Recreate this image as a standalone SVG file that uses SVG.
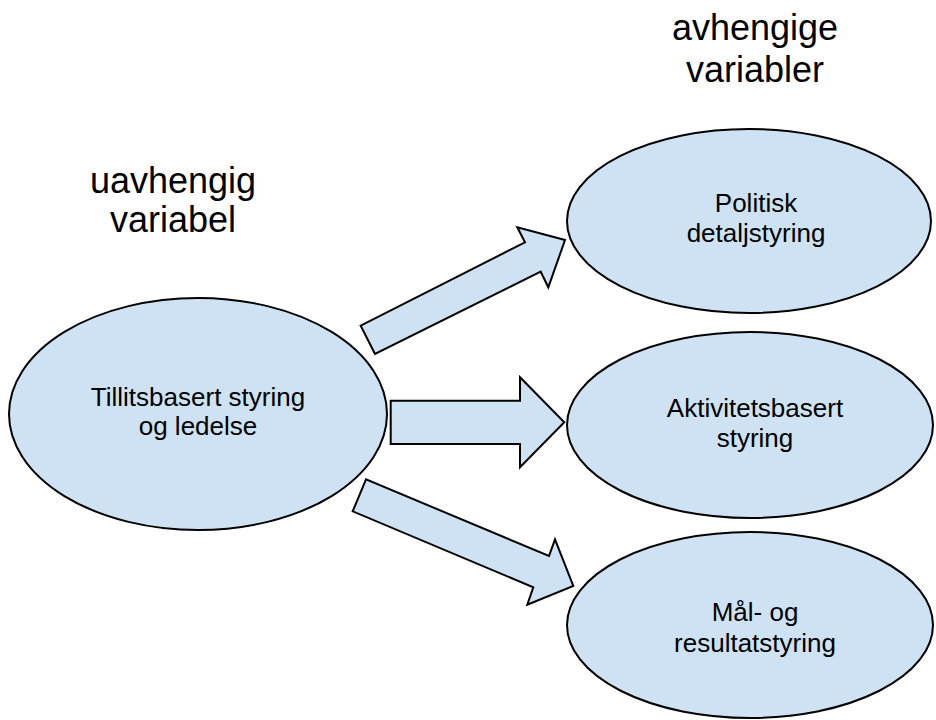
<svg xmlns="http://www.w3.org/2000/svg" width="936" height="720" viewBox="0 0 936 720">
<style>
.shape{fill:#cfe2f3;stroke:#000;stroke-width:2;stroke-linejoin:miter}
.lbl{font-family:"Liberation Sans",Arial,sans-serif;font-size:26px;fill:#000;text-anchor:middle}
.head{font-family:"Liberation Sans",Arial,sans-serif;font-size:36px;fill:#000;text-anchor:middle}
</style>
<rect width="936" height="720" fill="#fff"/>
<g id="heading-left">
<text class="head" x="173" y="193">uavhengig</text>
<text class="head" x="173" y="232">variabel</text>
</g>
<g id="heading-right">
<text class="head" x="755" y="40">avhengige</text>
<text class="head" x="755" y="82">variabler</text>
</g>
<g id="connectors">
<polygon class="shape" points="375,354 360.7,325.7 525,242.3 517.3,227.3 565,240 548.3,287.3 540.7,271.7"/>
<polygon class="shape" points="390.7,400.7 520,400.7 520,377.3 564.3,422.3 520,467.3 520,444 390.7,444"/>
<polygon class="shape" points="366,479.3 352.7,511.3 533.3,587.3 527.3,604.7 573.3,586 555,539.3 549,556"/>
</g>
<g id="node-tillit">
<ellipse class="shape" cx="198" cy="414" rx="189" ry="116"/>
<text class="lbl" x="198" y="406">Tillitsbasert styring</text>
<text class="lbl" x="198" y="435">og ledelse</text>
</g>
<g id="node-politisk">
<ellipse class="shape" cx="749" cy="221" rx="182" ry="92"/>
<text class="lbl" x="756" y="212">Politisk</text>
<text class="lbl" x="756" y="242">detaljstyring</text>
</g>
<g id="node-aktivitet">
<ellipse class="shape" cx="750" cy="425" rx="183" ry="93"/>
<text class="lbl" x="755" y="417">Aktivitetsbasert</text>
<text class="lbl" x="755" y="447">styring</text>
</g>
<g id="node-maal">
<ellipse class="shape" cx="750" cy="625" rx="183" ry="93"/>
<text class="lbl" x="755" y="621">Mål- og</text>
<text class="lbl" x="755" y="652">resultatstyring</text>
</g>
</svg>
